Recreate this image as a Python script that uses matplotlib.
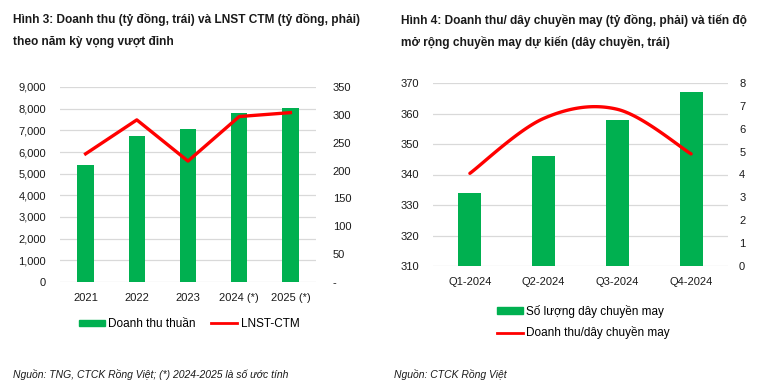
import matplotlib
matplotlib.use("Agg")
import matplotlib.pyplot as plt
import numpy as np
from matplotlib.lines import Line2D
from matplotlib.patches import Patch
from matplotlib.ticker import FuncFormatter

GREEN = "#00B050"
RED = "#FF0000"
GRID = "#D9D9D9"
TXT = "#1a1a1a"

plt.rcParams["font.family"] = ["Liberation Sans", "DejaVu Sans"]

# --- Hình 3 data
years = ["2021", "2022", "2023", "2024 (*)", "2025 (*)"]
revenue = [5420, 6750, 7080, 7820, 8030]
npat = [230, 291, 217, 297, 304]

# --- Hình 4 data
quarters = ["Q1-2024", "Q2-2024", "Q3-2024", "Q4-2024"]
lines_count = [334, 346, 358, 367]
rev_per_line = [4.05, 6.45, 6.85, 4.9]


def smooth(x, y, n=40):
    """Excel-like smoothed line: Catmull-Rom segments as cubic Beziers."""
    x = np.asarray(x, float); y = np.asarray(y, float)
    px = np.r_[x[0], x, x[-1]]; py = np.r_[y[0], y, y[-1]]
    t = np.linspace(0, 1, n)[:, None]
    xs, ys = [], []
    for i in range(1, len(px) - 2):
        p0 = np.array([px[i], py[i]]); p3 = np.array([px[i + 1], py[i + 1]])
        c1 = p0 + (np.array([px[i + 1], py[i + 1]]) - np.array([px[i - 1], py[i - 1]])) / 6
        c2 = p3 - (np.array([px[i + 2], py[i + 2]]) - np.array([px[i], py[i]])) / 6
        b = ((1 - t) ** 3) * p0 + 3 * ((1 - t) ** 2) * t * c1 + 3 * (1 - t) * t ** 2 * c2 + t ** 3 * p3
        xs.append(b[:, 0]); ys.append(b[:, 1])
    return np.concatenate(xs), np.concatenate(ys)


def style(ax):
    for s in ax.spines.values():
        s.set_visible(False)
    ax.tick_params(length=0, labelsize=8, colors=TXT)


W, H = 765, 390
fig = plt.figure(figsize=(W / 100, H / 100), dpi=100)
fig.patch.set_facecolor("white")


def px(l, t, r, b):
    return [l / W, 1 - b / H, (r - l) / W, (b - t) / H]


# ---------------- Hình 3
ax1 = fig.add_axes(px(60, 87, 316, 282))
x1 = np.arange(len(years))
ax1.bar(x1, revenue, width=0.32, color=GREEN, zorder=2)
ax1.set_ylim(0, 9000)
ax1.set_yticks(np.arange(0, 9001, 1000))
ax1.yaxis.set_major_formatter(FuncFormatter(lambda v, p: f"{int(v):,}"))
ax1.yaxis.grid(True, color=GRID, lw=0.9, zorder=0)
ax1.set_axisbelow(True)
ax1.set_xlim(-0.5, len(years) - 0.5)
ax1.set_xticks(x1, years)
style(ax1)
ax1.tick_params(axis="y", pad=10)
ax1.tick_params(axis="x", pad=8)
ax1r = ax1.twinx()
ax1r.plot(x1, npat, color=RED, lw=2.4, zorder=3)
ax1r.set_ylim(0, 350)
ax1r.set_yticks(np.arange(0, 351, 50))
ax1r.yaxis.set_major_formatter(FuncFormatter(lambda v, p: "-" if v == 0 else f"{int(v)}"))
style(ax1r)
ax1r.tick_params(axis="y", pad=12)

TFS = 8.6
fig.text(13 / W, 1 - 20 / H, "Hình 3: Doanh thu (tỷ đồng, trái) và LNST CTM (tỷ đồng, phải)",
         fontsize=TFS, fontweight="bold", va="center", ha="left", color=TXT)
fig.text(13 / W, 1 - 42 / H, "theo năm kỳ vọng vượt đỉnh",
         fontsize=TFS, fontweight="bold", va="center", ha="left", color=TXT)
fig.legend(handles=[Patch(color=GREEN, label="Doanh thu thuần"),
                    Line2D([], [], color=RED, lw=2, label="LNST-CTM")],
           loc="center", bbox_to_anchor=(189 / W, 1 - 324 / H), ncol=2, frameon=False,
           fontsize=8.5, handlelength=2.2, handleheight=0.45, columnspacing=1.3,
           handletextpad=0.3)
fig.text(13 / W, 1 - 374 / H, "Nguồn: TNG, CTCK Rồng Việt; (*) 2024-2025 là số ước tính",
         fontsize=7.5, style="italic", va="center", ha="left", color=TXT)

# ---------------- Hình 4
ax2 = fig.add_axes(px(433, 83, 728, 266))
x2 = np.arange(len(quarters))
ax2.bar(x2, [v - 310 for v in lines_count], bottom=310, width=0.31, color=GREEN, zorder=2)
ax2.set_ylim(310, 370)
ax2.set_yticks(np.arange(310, 371, 10))
ax2.yaxis.grid(True, color=GRID, lw=0.9, zorder=0)
ax2.set_axisbelow(True)
ax2.set_xlim(-0.5, len(quarters) - 0.5)
ax2.set_xticks(x2, quarters)
style(ax2)
ax2.tick_params(axis="y", pad=10)
ax2.tick_params(axis="x", pad=8)
ax2r = ax2.twinx()
sx, sy = smooth(x2, rev_per_line)
ax2r.plot(sx, sy, color=RED, lw=2.4, zorder=3, solid_capstyle="round")
ax2r.set_ylim(0, 8)
ax2r.set_yticks(np.arange(0, 9, 1))
style(ax2r)
ax2r.tick_params(axis="y", pad=8)

fig.text(401 / W, 1 - 20 / H, "Hình 4: Doanh thu/ dây chuyền may (tỷ đồng, phải) và tiến độ",
         fontsize=TFS, fontweight="bold", va="center", ha="left", color=TXT)
fig.text(401 / W, 1 - 42 / H, "mở rộng chuyền may dự kiến (dây chuyền, trái)",
         fontsize=TFS, fontweight="bold", va="center", ha="left", color=TXT)
fig.legend(handles=[Patch(color=GREEN, label="Số lượng dây chuyền may"),
                    Line2D([], [], color=RED, lw=2, label="Doanh thu/dây chuyền may")],
           loc="upper left", bbox_to_anchor=(486 / W, 1 - 294 / H), ncol=1, frameon=False,
           fontsize=8.5, handlelength=2.2, handleheight=0.45, handletextpad=0.3,
           labelspacing=0.75)
fig.text(394 / W, 1 - 375 / H, "Nguồn: CTCK Rồng Việt",
         fontsize=7.5, style="italic", va="center", ha="left", color=TXT)

fig.savefig("out.png", dpi=100)
